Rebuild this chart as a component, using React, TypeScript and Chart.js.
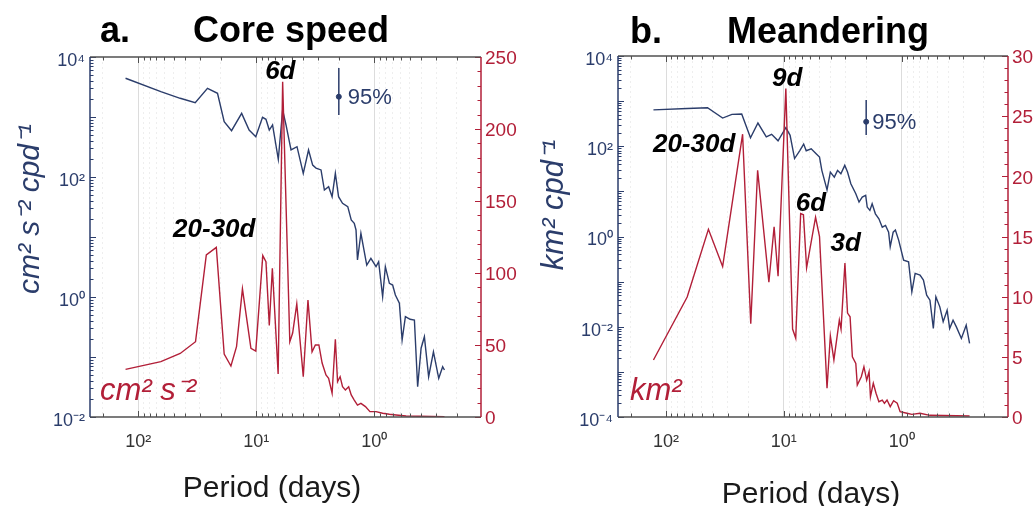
import React, { useEffect, useRef } from 'react';
import { Chart, registerables } from 'chart.js';

Chart.register(...registerables);

const NAVY = '#2b3d6b';
const RED = '#b21f38';
const AXIS = '#505050';
const SANS = '"Liberation Sans", Arial, Helvetica, sans-serif';
const W = 518;
const H = 506;

// ---- shared axis labels ----
const periodMin = 0.125;
const periodMax = 256;
const periodTickValues = [1, 10, 100];
const periodTickLabels = ['10⁰', '10¹', '10²'];

// ---- panel a: Core speed ----
const coreLeftTickValues = [1e-2, 1, 1e2, 1e4];
const coreLeftTickLabels = ['10⁻²', '10⁰', '10²', '10⁴'];

const coreSpecPeriod = [128, 64.3, 44.1, 32.9, 25.9, 21.3, 18.7, 16.2, 13.3, 11.5, 10.1, 8.85, 8.28, 7.76, 7.28, 6.51, 5.98, 5.6, 5.08, 4.52, 4.0, 3.61, 3.33, 3.12, 2.83, 2.65, 2.44, 2.28, 2.14, 2.01, 1.86, 1.68, 1.57, 1.48, 1.43, 1.39, 1.3, 1.16, 1.07, 0.968, 0.92, 0.851, 0.807, 0.746, 0.7, 0.664, 0.614, 0.582, 0.546, 0.498, 0.458, 0.43, 0.402, 0.377, 0.347, 0.316, 0.285, 0.264, 0.255];
const coreSpecValue = [4420, 2640, 2050, 1730, 3010, 2480, 835, 591, 1150, 607, 470, 988, 916, 607, 736, 197, 1309, 736, 282, 320, 115, 282, 158, 141, 131, 60.7, 68.9, 47, 115, 47, 36.5, 32, 19.2, 16.9, 13.1, 4.14, 11.5, 3.41, 4.42, 3.2, 3.87, 1.01, 3.2, 1.69, 1.58, 1.08, 0.785, 0.192, 0.47, 0.425, 0.414, 0.032, 0.14, 0.218, 0.047, 0.122, 0.0442, 0.069, 0.0607];

const coreVarPeriod = [128, 64.3, 44.1, 32.7, 26.5, 21.8, 18.7, 16.4, 14.7, 13.1, 11.1, 10.1, 8.81, 8.28, 7.76, 7.31, 6.53, 5.98, 5.2, 4.92, 4.54, 4.0, 3.65, 3.37, 3.16, 2.95, 2.77, 2.57, 2.44, 2.28, 2.14, 2.05, 1.95, 1.86, 1.76, 1.65, 1.57, 1.48, 1.39, 1.3, 1.19, 1.09, 0.968, 0.851, 0.746, 0.655, 0.539, 0.416, 0.255];
const coreVarValue = [33.1, 38.4, 44.1, 52.3, 112.5, 117.8, 43.7, 35.4, 48.8, 89, 47.7, 45.8, 112.1, 107.8, 63.5, 103.3, 29.9, 232.8, 52.3, 58.3, 78.5, 28, 81.2, 45.3, 50, 50, 37.5, 29.2, 26.9, 16.5, 54, 24.5, 28, 21, 18.7, 21, 15.3, 11.8, 8.3, 9.5, 7.2, 3.7, 3.7, 2.6, 1.9, 1.4, 0.7, 0.5, 0.2];

const coreCiPeriod = 2.0;
const coreCiValues = [1080, 2180, 6560]; // low, mid, high

const corePeakLabels = ['6d', '20-30d'];
const corePeakPeriods = [6.26, 22.7];
const corePeakValues = [235, 125];

// ---- panel b: Meandering ----
const meanLeftTickValues = [1e-4, 1e-2, 1, 1e2, 1e4];
const meanLeftTickLabels = ['10⁻⁴', '10⁻²', '10⁰', '10²', '10⁴'];

const meanSpecPeriod = [128, 66.2, 44.5, 33.1, 27.6, 22.8, 19.2, 16.6, 14.1, 12.7, 11.2, 9.62, 8.85, 8.11, 7.3, 6.79, 6.46, 5.86, 5.32, 4.98, 4.76, 4.3, 4.03, 3.73, 3.5, 3.28, 3.04, 2.88, 2.7, 2.45, 2.3, 2.16, 2.02, 1.96, 1.86, 1.78, 1.67, 1.56, 1.46, 1.37, 1.29, 1.25, 1.18, 1.13, 1.06, 0.962, 0.873, 0.819, 0.768, 0.698, 0.653, 0.613, 0.575, 0.538, 0.512, 0.474, 0.444, 0.411, 0.391, 0.366, 0.343, 0.311, 0.283, 0.265];
const meanSpecValue = [641, 686, 714, 422, 510, 518, 154, 327, 161, 184, 132, 257, 175, 53.4, 81.1, 112, 79.4, 88, 68.2, 57.6, 29.2, 10.8, 26.8, 20.7, 29.2, 24.5, 37.7, 26.8, 14.8, 8.85, 5.79, 7.48, 8.15, 4.49, 3.79, 5.31, 3.18, 2.47, 1.61, 1.76, 1.25, 0.591, 1.25, 1.39, 0.832, 0.3, 0.275, 0.0594, 0.152, 0.139, 0.108, 0.0502, 0.0389, 0.00916, 0.046, 0.0276, 0.0129, 0.0233, 0.00916, 0.014, 0.00995, 0.00551, 0.0108, 0.00427];

const meanVarPeriod = [128, 66.2, 43.7, 33.1, 22.4, 19.1, 16.7, 13.4, 12.1, 11.2, 9.62, 8.43, 7.93, 7.2, 6.82, 6.41, 5.38, 4.98, 4.3, 4.03, 3.76, 3.38, 3.27, 3.03, 2.88, 2.74, 2.62, 2.45, 2.38, 2.2, 2.09, 1.98, 1.89, 1.84, 1.74, 1.65, 1.56, 1.46, 1.4, 1.33, 1.25, 1.17, 1.09, 1.03, 0.902, 0.819, 0.698, 0.575, 0.265];
const meanVarValue = [4.74, 9.97, 15.6, 12.5, 23.5, 7.75, 20.5, 11.2, 15.8, 11.7, 27.3, 7.31, 6.54, 16.9, 16.8, 12.4, 16.6, 15.0, 2.39, 6.73, 4.74, 8.06, 7.31, 12.8, 8.64, 8.33, 5.01, 4.46, 2.66, 3.35, 4.18, 3.07, 3.76, 1.69, 2.8, 1.97, 1.27, 1.41, 1.14, 1.41, 0.86, 1.35, 1.14, 0.44, 0.31, 0.22, 0.31, 0.14, 0.08];

const meanCiPeriod = 2.0;
const meanCiValues = [177, 349, 1057];

const meanPeakLabels = ['9d', '20-30d', '6d', '3d'];
const meanPeakPeriods = [9.38, 57.8, 5.9, 2.99];
const meanPeakValues = [27.5, 22.0, 17.1, 13.8];

// ---- helpers ----
const isPow10 = (v: number) => {
  const l = Math.log10(v);
  return Math.abs(l - Math.round(l)) < 1e-6;
};

function logTicks(min: number, max: number) {
  const out: number[] = [];
  for (let e = Math.floor(Math.log10(min)); e <= Math.ceil(Math.log10(max)); e++) {
    for (let m = 1; m < 10; m++) {
      const v = parseFloat((m * Math.pow(10, e)).toPrecision(8));
      if (v >= min * 0.9999 && v <= max * 1.0001) out.push(v);
    }
  }
  return out;
}

function labelFor(values: number[], labels: string[], v: number) {
  for (let i = 0; i < values.length; i++) {
    if (Math.abs(values[i] - v) / values[i] < 1e-6) return labels[i];
  }
  return '';
}

const pts = (xs: number[], ys: number[]) => xs.map((x, i) => ({ x, y: ys[i] }));

type PanelCfg = any;

const coreCfg: PanelCfg = {
  letter: 'a.', title: 'Core speed', letterX: 100, titleX: 193, titleY: 42,
  area: { left: 90, right: 481, top: 57, bottom: 417 },
  leftMin: 1e-2, leftMax: 1e4, leftTickValues: coreLeftTickValues, leftTickLabels: coreLeftTickLabels,
  rightMax: 250, rightStep: 50, rightMinor: 10,
  specP: coreSpecPeriod, specV: coreSpecValue, varP: coreVarPeriod, varV: coreVarValue,
  ciP: coreCiPeriod, ci: coreCiValues, ciGap: 9,
  peakLabels: corePeakLabels, peakPeriods: corePeakPeriods, peakValues: corePeakValues,
  yTitle: 'cm² s⁻² cpd⁻¹', yTitleX: 31, yTitleY: 209, yTitleSize: 30,
  unit: 'cm² s⁻²', unitX: 100, unitY: 400,
  xTitleX: 272, xTitleY: 497,
};

const meanCfg: PanelCfg = {
  letter: 'b.', title: 'Meandering', letterX: 112, titleX: 209, titleY: 43,
  area: { left: 100, right: 490, top: 56, bottom: 417 },
  leftMin: 1e-4, leftMax: 1e4, leftTickValues: meanLeftTickValues, leftTickLabels: meanLeftTickLabels,
  rightMax: 30, rightStep: 5, rightMinor: 1,
  specP: meanSpecPeriod, specV: meanSpecValue, varP: meanVarPeriod, varV: meanVarValue,
  ciP: meanCiPeriod, ci: meanCiValues, ciGap: 6,
  peakLabels: meanPeakLabels, peakPeriods: meanPeakPeriods, peakValues: meanPeakValues,
  yTitle: 'km² cpd⁻¹', yTitleX: 36, yTitleY: 205, yTitleSize: 31,
  unit: 'km²', unitX: 112, unitY: 400,
  xTitleX: 293, xTitleY: 503,
};

function makeDecor(cfg: PanelCfg) {
  return {
    id: 'decor',
    afterDraw(chart: any) {
      const { ctx, chartArea: a, scales } = chart;
      const sx = scales.x, sy = scales.y, sy1 = scales.y1;
      ctx.save();
      const seg = (x1: number, y1: number, x2: number, y2: number, color: string, w = 1) => {
        ctx.beginPath();
        ctx.strokeStyle = color;
        ctx.lineWidth = w;
        ctx.moveTo(x1, y1);
        ctx.lineTo(x2, y2);
        ctx.stroke();
      };
      // inward tick marks
      sx.ticks.forEach((t: any) => {
        const px = Math.round(sx.getPixelForValue(t.value)) + 0.5;
        const len = isPow10(t.value) ? 6 : 3.5;
        seg(px, a.bottom, px, a.bottom - len, AXIS);
        seg(px, a.top, px, a.top + len, AXIS);
      });
      sy.ticks.forEach((t: any) => {
        const py = Math.round(sy.getPixelForValue(t.value)) + 0.5;
        const len = isPow10(t.value) ? 6 : 3.5;
        seg(a.left, py, a.left + len, py, NAVY);
      });
      for (let v = 0; v <= cfg.rightMax + 1e-9; v += cfg.rightMinor) {
        const py = Math.round(sy1.getPixelForValue(v)) + 0.5;
        const r = v / cfg.rightStep;
        const major = Math.abs(r - Math.round(r)) < 1e-6;
        seg(a.right, py, a.right - (major ? 6 : 3.5), py, RED);
      }
      // frame
      seg(a.left, a.top, a.right, a.top, AXIS, 1.5);
      seg(a.left, a.bottom, a.right, a.bottom, AXIS, 1.5);
      seg(a.left, a.top, a.left, a.bottom, NAVY, 1.5);
      seg(a.right, a.top, a.right, a.bottom, RED, 1.5);

      // titles
      ctx.textBaseline = 'alphabetic';
      ctx.textAlign = 'left';
      ctx.fillStyle = '#000';
      ctx.font = `bold 36px ${SANS}`;
      ctx.fillText(cfg.letter, cfg.letterX, cfg.titleY);
      ctx.fillText(cfg.title, cfg.titleX, cfg.titleY);

      ctx.font = `30px ${SANS}`;
      ctx.textAlign = 'center';
      ctx.fillStyle = '#1a1a1a';
      ctx.fillText('Period (days)', cfg.xTitleX, cfg.xTitleY);

      ctx.save();
      ctx.translate(cfg.yTitleX, cfg.yTitleY);
      ctx.rotate(-Math.PI / 2);
      ctx.font = `italic ${cfg.yTitleSize}px ${SANS}`;
      ctx.fillStyle = NAVY;
      ctx.textAlign = 'center';
      ctx.textBaseline = 'middle';
      ctx.fillText(cfg.yTitle, 0, 0);
      ctx.restore();

      ctx.font = `italic 31px ${SANS}`;
      ctx.fillStyle = RED;
      ctx.textAlign = 'left';
      ctx.textBaseline = 'alphabetic';
      ctx.fillText(cfg.unit, cfg.unitX, cfg.unitY);

      ctx.font = `italic bold 26px ${SANS}`;
      ctx.fillStyle = '#000';
      ctx.textAlign = 'center';
      cfg.peakLabels.forEach((s: string, i: number) => {
        ctx.fillText(s, sx.getPixelForValue(cfg.peakPeriods[i]), sy1.getPixelForValue(cfg.peakValues[i]));
      });

      ctx.font = `22px ${SANS}`;
      ctx.fillStyle = NAVY;
      ctx.textAlign = 'left';
      ctx.textBaseline = 'middle';
      ctx.fillText('95%', sx.getPixelForValue(cfg.ciP) + cfg.ciGap, sy.getPixelForValue(cfg.ci[1]) + 1);
      ctx.restore();
    },
  };
}

function Panel({ cfg, left }: { cfg: PanelCfg; left: number }) {
  const ref = useRef<HTMLCanvasElement>(null);
  useEffect(() => {
    const canvas = ref.current;
    if (!canvas) return;
    const chart = new Chart(canvas, {
      type: 'line',
      data: {
        datasets: [
          { label: 'variance', data: pts(cfg.varP, cfg.varV), yAxisID: 'y1', borderColor: RED, borderWidth: 1.4, pointRadius: 0, order: 0 },
          { label: 'spectrum', data: pts(cfg.specP, cfg.specV), yAxisID: 'y', borderColor: NAVY, borderWidth: 1.4, pointRadius: 0, order: 1 },
          { label: 'ci', data: [{ x: cfg.ciP, y: cfg.ci[0] }, { x: cfg.ciP, y: cfg.ci[2] }], yAxisID: 'y', borderColor: NAVY, borderWidth: 1.5, pointRadius: 0, order: 2 },
          { label: 'ciMid', data: [{ x: cfg.ciP, y: cfg.ci[1] }], yAxisID: 'y', showLine: false, borderColor: NAVY, backgroundColor: NAVY, pointRadius: 2.5, order: 2 },
        ],
      },
      options: {
        responsive: false,
        animation: false,
        devicePixelRatio: 1,
        layout: { padding: { top: cfg.area.top, left: 0, right: 0, bottom: 0 } },
        plugins: { legend: { display: false }, tooltip: { enabled: false }, title: { display: false } },
        scales: {
          x: {
            type: 'logarithmic',
            position: 'bottom',
            reverse: true,
            min: periodMin,
            max: periodMax,
            afterBuildTicks: (s: any) => { s.ticks = logTicks(periodMin, periodMax).map((v) => ({ value: v })); },
            afterFit: (s: any) => { s.height = H - cfg.area.bottom; },
            ticks: {
              autoSkip: false, maxRotation: 0, minRotation: 0, padding: 14,
              color: '#333', font: { family: SANS, size: 18 },
              callback: (v: any) => labelFor(periodTickValues, periodTickLabels, Number(v)),
            },
            grid: {
              drawTicks: false,
              lineWidth: 1,
              color: (c: any) => (c.tick && isPow10(c.tick.value) ? '#dcdcdc' : '#eeeeee'),
            },
            border: { display: false, dash: (c: any) => (c.tick && !isPow10(c.tick.value) ? [2, 3] : []) },
          },
          y: {
            type: 'logarithmic',
            position: 'left',
            min: cfg.leftMin,
            max: cfg.leftMax,
            afterBuildTicks: (s: any) => { s.ticks = logTicks(cfg.leftMin, cfg.leftMax).map((v) => ({ value: v })); },
            afterFit: (s: any) => { s.width = cfg.area.left; },
            ticks: {
              autoSkip: false, padding: 5, labelOffset: 4,
              color: NAVY, font: { family: SANS, size: 18 },
              callback: (v: any) => labelFor(cfg.leftTickValues, cfg.leftTickLabels, Number(v)),
            },
            grid: { display: false, drawTicks: false },
            border: { display: false },
          },
          y1: {
            type: 'linear',
            position: 'right',
            min: 0,
            max: cfg.rightMax,
            afterFit: (s: any) => { s.width = W - cfg.area.right; },
            ticks: { stepSize: cfg.rightStep, padding: 4, labelOffset: 2, color: RED, font: { family: SANS, size: 19 } },
            grid: { display: false, drawTicks: false },
            border: { display: false },
          },
        },
      } as any,
      plugins: [makeDecor(cfg)],
    } as any);
    return () => chart.destroy();
  }, [cfg]);
  return (
    <canvas
      ref={ref}
      width={W}
      height={H}
      style={{ position: 'absolute', left, top: 0, width: W, height: H }}
    />
  );
}

export default function App() {
  return (
    <div style={{ position: 'absolute', left: 0, top: 0, width: 1036, height: 506, background: '#fff', overflow: 'hidden' }}>
      <Panel cfg={coreCfg} left={0} />
      <Panel cfg={meanCfg} left={518} />
    </div>
  );
}
